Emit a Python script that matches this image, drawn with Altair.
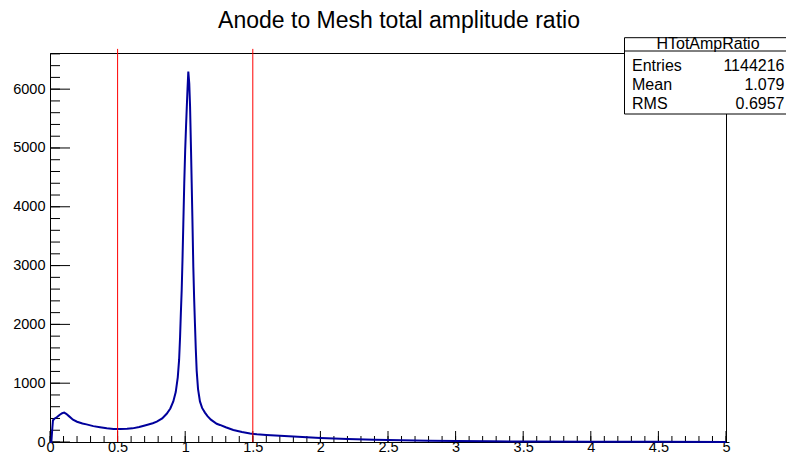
import altair as alt
import pandas as pd

# Histogram outline (ratio bin centre, entries)
ratio_x = [0.000, 0.010, 0.016, 0.022, 0.035, 0.050, 0.070, 0.090, 0.105, 0.120,
           0.140, 0.170, 0.200, 0.240, 0.270, 0.320, 0.370, 0.420, 0.470, 0.520,
           0.570, 0.610, 0.660, 0.715, 0.760, 0.790, 0.830, 0.863, 0.890, 0.912,
           0.930, 0.945, 0.955, 0.962, 0.968, 0.974, 0.980, 0.986, 0.993, 1.000,
           1.006, 1.011, 1.017, 1.023, 1.030, 1.036, 1.043, 1.048, 1.053, 1.060,
           1.066, 1.072, 1.078, 1.085, 1.095, 1.109, 1.125, 1.146, 1.165, 1.190,
           1.233, 1.257, 1.300, 1.356, 1.420, 1.480, 1.530, 1.600, 1.700, 1.800,
           1.900, 2.000, 2.200, 2.400, 2.600, 2.800, 3.000, 3.250, 3.500, 4.000,
           4.500, 5.000]
counts = [0, 0, 200, 370, 400, 420, 460, 490, 500, 480,
          440, 380, 345, 315, 300, 270, 250, 232, 222, 220,
          225, 232, 255, 290, 320, 345, 400, 480, 570, 690,
          850, 1100, 1400, 1780, 2200, 2580, 3100, 3700, 4400, 4970,
          5350, 5650, 6000, 6300, 6100, 5700, 4970, 4400, 3830, 2980,
          2450, 2020, 1600, 1210, 900, 690, 580, 500, 440, 380,
          310, 290, 250, 205, 170, 145, 132, 120, 105, 92,
          80, 68, 52, 38, 28, 21, 15, 11, 8, 5,
          3, 2]

# Red cut lines
cut_x = [0.5, 1.5]
cut_top = 6685

# Axis ticks
x_major = [0, 0.5, 1, 1.5, 2, 2.5, 3, 3.5, 4, 4.5, 5]
x_minor = [i / 10 for i in range(0, 51)]
y_major = [0, 1000, 2000, 3000, 4000, 5000, 6000]
y_minor = [i * 200 for i in range(0, 34)]

title_text = "Anode to Mesh total amplitude ratio"
stat_name = "HTotAmpRatio"
stat_labels = ["Entries", "Mean", "RMS"]
stat_values = ["1144216", "1.079", "0.6957"]

FONT = "Liberation Sans"
W, H = 676, 389
x_scale = alt.Scale(domain=[0, 5], nice=False, zero=False)
y_scale = alt.Scale(domain=[0, 6615], nice=False)

x_axis = alt.Axis(values=x_major, format="~g", title=None, labelPadding=9.5,
                  labelBaseline="alphabetic",
                  tickSize=0, ticks=False, domain=False, grid=False,
                  labelFont=FONT, labelFontSize=14.5, labelColor="black",
                  labelFlush=False, labelOverlap=False)
y_axis = alt.Axis(values=y_major, format="d", title=None, labelPadding=5,
                  tickSize=0, ticks=False, domain=False, grid=False,
                  labelFont=FONT, labelFontSize=14.5, labelColor="black",
                  labelFlush=False, labelOverlap=False)

hist_df = pd.DataFrame({"x": ratio_x, "y": counts})

hist = alt.Chart(hist_df).mark_line(color="#00009c", strokeWidth=2).encode(
    x=alt.X("x:Q", scale=x_scale, axis=x_axis),
    y=alt.Y("y:Q", scale=y_scale, axis=y_axis),
)

def rule_chart(df):
    return alt.Chart(df).mark_rule(color="black", strokeWidth=1)

ymaj = rule_chart(pd.DataFrame({"t": y_major})).encode(
    y=alt.Y("t:Q", scale=y_scale, axis=y_axis), x=alt.value(0), x2=alt.value(20))
ymin = rule_chart(pd.DataFrame({"t": y_minor})).encode(
    y=alt.Y("t:Q", scale=y_scale, axis=y_axis), x=alt.value(0), x2=alt.value(10))
xmaj = rule_chart(pd.DataFrame({"t": x_major})).encode(
    x=alt.X("t:Q", scale=x_scale, axis=x_axis), y=alt.value(H), y2=alt.value(H - 11))
xmin = rule_chart(pd.DataFrame({"t": x_minor})).encode(
    x=alt.X("t:Q", scale=x_scale, axis=x_axis), y=alt.value(H), y2=alt.value(H - 6))

cuts = alt.Chart(pd.DataFrame({"x": cut_x, "y0": [0, 0], "y1": [cut_top, cut_top]})).mark_rule(
    color="#ff0000", strokeWidth=1).encode(
    x=alt.X("x:Q", scale=x_scale, axis=x_axis),
    y=alt.Y("y0:Q", scale=y_scale, axis=y_axis), y2="y1:Q")

def text_chart(txt, x, y, size, align):
    return alt.Chart(pd.DataFrame({"t": [txt]})).mark_text(
        font=FONT, fontSize=size, align=align, baseline="alphabetic", color="black").encode(
        text="t:N", x=alt.value(x), y=alt.value(y))

title = text_chart(title_text, 349, -25, 23, "center")

box = alt.Chart(pd.DataFrame({"a": [0]})).mark_rect(
    fill="white", stroke="black", strokeWidth=1).encode(
    x=alt.value(574.5), x2=alt.value(770), y=alt.value(-15.3), y2=alt.value(61))
sep = alt.Chart(pd.DataFrame({"a": [0]})).mark_rule(color="black", strokeWidth=1).encode(
    x=alt.value(574.5), x2=alt.value(770), y=alt.value(-2))
head = text_chart(stat_name, 658, -4, 16, "center")

row_ys = [18, 37, 56]
stat_layers = []
for lab, val, ry in zip(stat_labels, stat_values, row_ys):
    stat_layers.append(text_chart(lab, 582, ry, 16, "left"))
    stat_layers.append(text_chart(val, 734.5, ry, 16, "right"))

chart = alt.layer(
    ymin, ymaj, xmin, xmaj, hist, cuts, title, box, sep, head, *stat_layers
).properties(
    width=W, height=H,
    padding={"left": 42, "top": 45, "right": 60, "bottom": 12},
    autosize=alt.AutoSizeParams(type="none"),
    background="white",
).configure_view(stroke="black", strokeWidth=1)

chart.save("out.html", embed_options={"renderer": "svg", "actions": False})
